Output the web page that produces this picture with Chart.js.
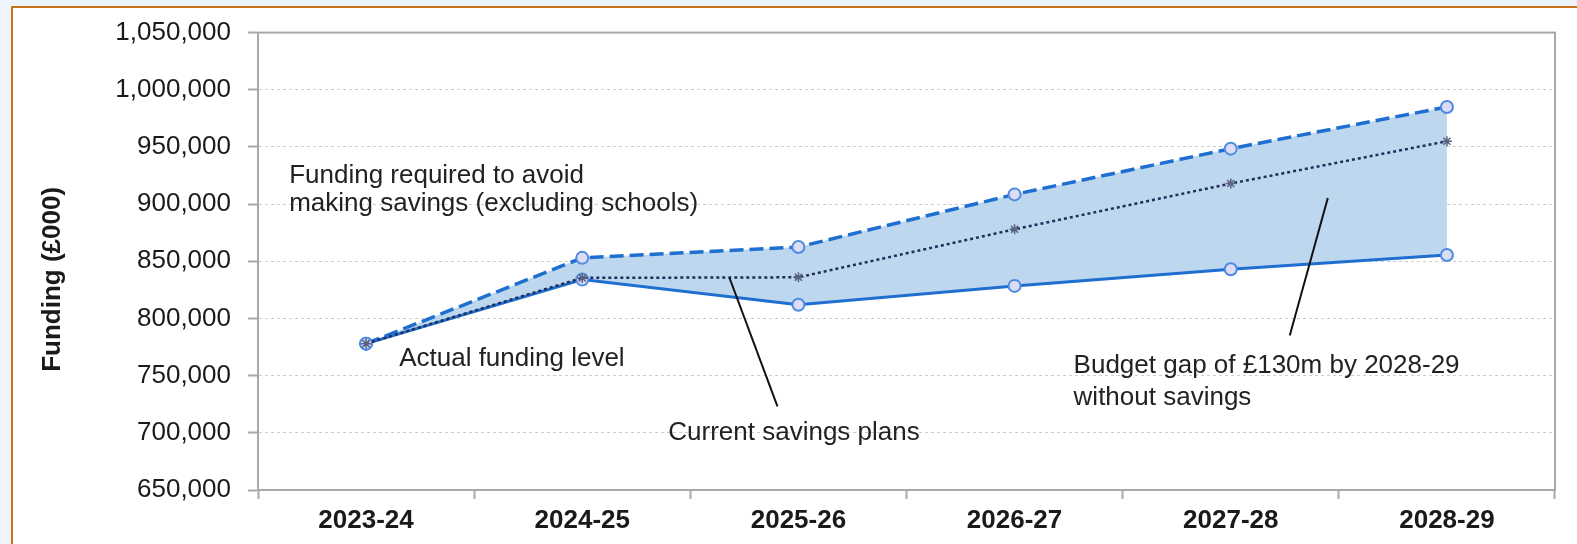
<!DOCTYPE html>
<html>
<head>
<meta charset="utf-8">
<script src="https://cdn.jsdelivr.net/npm/chart.js@4.4.1/dist/chart.umd.min.js"></script>
<style>
  html, body { margin: 0; padding: 0; background: #eef4fc; }
  #wrap { width: 1577px; height: 544px; position: relative; }
</style>
</head>
<body>
<div id="wrap"><canvas id="c" width="1577" height="544"></canvas></div>
<script>
// ---- Data ----
const categories = ['2023-24', '2024-25', '2025-26', '2026-27', '2027-28', '2028-29'];
const fundingRequired = [778000, 853000, 862500, 908500, 948500, 985000];
const currentSavings  = [778000, 835500, 836000, 878000, 918000, 955000];
const actualFunding   = [778000, 834000, 812000, 828500, 843000, 855500];
const yMin = 650000;
const yMax = 1050000;
const yStep = 50000;
const yTitle = 'Funding (£000)';

// Annotation texts (anchored in data space: category index, value)
const noteFundingLines = ['Funding required to avoid', 'making savings (excluding schools)'];
const noteActual = 'Actual funding level';
const noteSavings = 'Current savings plans';
const noteGapLines = ['Budget gap of £130m by 2028-29', 'without savings'];

const notes = [
  { lines: noteFundingLines, x: -0.356, y: [924500, 900100] },
  { lines: [noteActual], x: 0.153, y: [765000] },
  { lines: [noteSavings], x: 1.398, y: [699700] },
  { lines: noteGapLines, x: 3.273, y: [758900, 731000] }
];
const leaders = [
  { from: [1.681, 835600], to: [1.903, 723200] },
  { from: [4.449, 905300], to: [4.273, 785100] }
];

const FONT = '"Liberation Sans", Arial, sans-serif';
const BLUE = '#1f6fd0';
const NAVY = '#1f2f5a';

const framePlugin = {
  id: 'frame',
  beforeDraw(chart) {
    const ctx = chart.ctx;
    ctx.save();
    ctx.fillStyle = '#eef4fc';
    ctx.fillRect(0, 0, chart.width, chart.height);
    ctx.fillStyle = '#ffffff';
    ctx.fillRect(12, 7, chart.width - 12, chart.height - 7);
    ctx.strokeStyle = '#c8711f';
    ctx.lineWidth = 2;
    ctx.beginPath();
    ctx.moveTo(12, chart.height);
    ctx.lineTo(12, 7);
    ctx.lineTo(chart.width, 7);
    ctx.stroke();
    ctx.restore();
  },
  beforeDatasetsDraw(chart) {
    const {ctx, chartArea: a} = chart;
    ctx.save();
    ctx.strokeStyle = '#a8a8a8';
    ctx.lineWidth = 2;
    ctx.strokeRect(a.left, a.top, a.right - a.left, a.bottom - a.top);
    ctx.restore();
  },
  afterDatasetsDraw(chart) {
    const ctx = chart.ctx;
    const xs = chart.scales.x, ys = chart.scales.y;
    ctx.save();
    ctx.strokeStyle = '#111';
    ctx.lineWidth = 2;
    leaders.forEach(l => {
      ctx.beginPath();
      ctx.moveTo(xs.getPixelForValue(l.from[0]), ys.getPixelForValue(l.from[1]));
      ctx.lineTo(xs.getPixelForValue(l.to[0]), ys.getPixelForValue(l.to[1]));
      ctx.stroke();
    });
    ctx.fillStyle = '#222';
    ctx.font = '26px ' + FONT;
    ctx.textAlign = 'left';
    ctx.textBaseline = 'middle';
    notes.forEach(n => {
      n.lines.forEach((t, i) => {
        ctx.fillText(t, xs.getPixelForValue(n.x), ys.getPixelForValue(n.y[i]));
      });
    });
    ctx.restore();
  }
};

new Chart(document.getElementById('c'), {
  type: 'line',
  data: {
    labels: categories,
    datasets: [
      {
        label: 'Current savings plans',
        data: currentSavings,
        borderColor: NAVY,
        borderWidth: 2.5,
        borderDash: [3, 3],
        pointStyle: 'star',
        pointRadius: 5,
        pointBorderColor: '#5a6180',
        pointBorderWidth: 1.5,
        pointBackgroundColor: '#5a6180',
        fill: false,
        tension: 0
      },
      {
        label: 'Funding required to avoid making savings (excluding schools)',
        data: fundingRequired,
        borderColor: BLUE,
        borderWidth: 3.5,
        borderDash: [14, 6],
        pointStyle: 'circle',
        pointRadius: 6,
        pointBorderColor: '#4d8be0',
        pointBorderWidth: 2,
        pointBackgroundColor: '#dcdcf7',
        fill: false,
        tension: 0
      },
      {
        label: 'Actual funding level',
        data: actualFunding,
        borderColor: BLUE,
        borderWidth: 3,
        pointStyle: 'circle',
        pointRadius: 6,
        pointBorderColor: '#4d8be0',
        pointBorderWidth: 2,
        pointBackgroundColor: '#dcdcf7',
        fill: { target: 1 },
        backgroundColor: 'rgba(189,215,239,1)',
        tension: 0
      }
    ]
  },
  options: {
    responsive: false,
    animation: false,
    events: [],
    layout: { padding: { top: 31, right: 22, bottom: 0, left: 0 } },
    plugins: {
      legend: { display: false },
      tooltip: { enabled: false },
      filler: { drawTime: 'beforeDatasetsDraw' }
    },
    scales: {
      x: {
        type: 'category',
        offset: true,
        afterFit(s) { s.height = 54; },
        grid: {
          offset: true,
          drawOnChartArea: false,
          drawTicks: true,
          tickLength: 9,
          tickColor: '#a8a8a8',
          tickWidth: 2
        },
        border: { display: true, color: '#a8a8a8', width: 2 },
        ticks: {
          color: '#1a1a1a',
          padding: 6,
          font: { family: FONT, size: 26, weight: 'bold' }
        }
      },
      y: {
        min: yMin,
        max: yMax,
        afterFit(s) { s.width = 258; },
        grid: {
          color: '#cdcdcd',
          lineWidth: 1,
          drawTicks: true,
          tickLength: 10,
          tickColor: '#a8a8a8',
          tickWidth: 2,
          tickBorderDash: []
        },
        border: { display: true, color: '#a8a8a8', width: 2, dash: [3, 3] },
        ticks: {
          stepSize: yStep,
          color: '#1a1a1a',
          padding: 17,
          font: { family: FONT, size: 26 },
          callback: v => v.toLocaleString('en-US')
        },
        title: {
          display: true,
          text: yTitle + '     ',
          color: '#1a1a1a',
          padding: { top: 37, bottom: 0 },
          font: { family: FONT, size: 26, weight: 'bold' }
        }
      }
    }
  },
  plugins: [framePlugin]
});
</script>
</body>
</html>
